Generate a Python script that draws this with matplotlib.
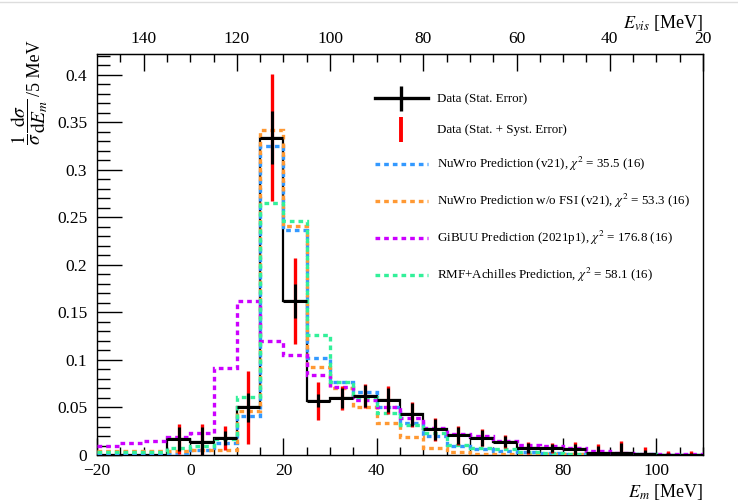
import numpy as np
import matplotlib
matplotlib.use("Agg")
import matplotlib.pyplot as plt
from matplotlib.lines import Line2D
from matplotlib.ticker import MultipleLocator, FixedLocator, FuncFormatter

plt.rcParams['font.family'] = ['Liberation Serif', 'DejaVu Serif']
plt.rcParams['mathtext.fontset'] = 'stix'

# ---------------- data ----------------
bin_edges = np.arange(-20, 111, 5)
data_vals = [0, 0, 0, 0.017, 0.014, 0.018, 0.050, 0.334, 0.162, 0.057, 0.060, 0.062,
             0.058, 0.043, 0.027, 0.021, 0.018, 0.014, 0.0075, 0.0075, 0.006, 0.002,
             0.002, 0.001, 0.0005, 0.0005]
# errors for bins starting at -5 MeV
err_first_bin = 3
stat_err = [0.013, 0.016, 0.007, 0.015, 0.028, 0.018, 0.007, 0.011, 0.012, 0.013, 0.012,
            0.011, 0.009, 0.008, 0.006, 0.005, 0.004, 0.006, 0.007, 0.011, 0.004, 0.002, 0.002]
tot_err = [0.016, 0.019, 0.013, 0.038, 0.067, 0.045, 0.020, 0.013, 0.013, 0.015, 0.013,
           0.012, 0.010, 0.009, 0.007, 0.006, 0.005, 0.008, 0.010, 0.013, 0.0075, 0.0035, 0.0035]

nuwro = [0.001, 0.001, 0.001, 0.001, 0.005, 0.0125, 0.041, 0.325, 0.237, 0.102, 0.077,
         0.066, 0.050, 0.034, 0.020, 0.009, 0.006, 0.0045, 0.003, 0.002, 0.0015, 0.001,
         0.001, 0.0008, 0.0005, 0.0005]
nuwro_nofsi = [0.004, 0.004, 0.004, 0.004, 0.005, 0.005, 0.046, 0.342, 0.241, 0.093, 0.070,
               0.051, 0.034, 0.019, 0.007, 0.0035, 0.0015, 0.001, 0.001, 0.0008, 0.0006,
               0.0005, 0.0004, 0.0003, 0.0003, 0.0003]
gibuu = [0.009, 0.013, 0.015, 0.019, 0.023, 0.092, 0.162, 0.120, 0.105, 0.084, 0.072,
         0.058, 0.050, 0.039, 0.028, 0.022, 0.020, 0.015, 0.0105, 0.009, 0.0075, 0.004,
         0.0025, 0.0015, 0.001, 0.001]
rmf = [0.003, 0.003, 0.0035, 0.007, 0.009, 0.017, 0.061, 0.265, 0.246, 0.126, 0.077,
       0.061, 0.044, 0.032, 0.023, 0.0105, 0.0074, 0.006, 0.0035, 0.002, 0.0015, 0.001,
       0.001, 0.0008, 0.0005, 0.0005]

pred_labels = [r'NuWro Prediction (v21), $\chi^2$ = 35.5 (16)',
               r'NuWro Prediction w/o FSI (v21), $\chi^2$ = 53.3 (16)',
               r'GiBUU Prediction (2021p1), $\chi^2$ = 176.8 (16)',
               r'RMF+Achilles Prediction, $\chi^2$ = 58.1 (16)']
pred_colors = ['#3399ff', '#ff9933', '#cc00ff', '#33f09a']
preds = [nuwro, nuwro_nofsi, gibuu, rmf]
evis_ticks = [140, 120, 100, 80, 60, 40, 20]

# ---------------- figure ----------------
W, H = 738, 504
fig = plt.figure(figsize=(7.38, 5.04), dpi=100)
ax = fig.add_axes([0.1314, 0.0972, 0.8212, 0.7957])

ax.stairs(data_vals, bin_edges, baseline=None, color='black', lw=1.6, zorder=2)

dash = (0, (1.4, 1.2))
for vals, col in zip(preds, pred_colors):
    ax.stairs(vals, bin_edges, baseline=None, color=col, lw=2.4, linestyle=dash, zorder=3)

centers = 0.5 * (bin_edges[:-1] + bin_edges[1:])
c = centers[err_first_bin:]
v = np.array(data_vals[err_first_bin:])
ax.errorbar(c, v, yerr=tot_err, fmt='none', ecolor='red', elinewidth=2.4, capsize=0, zorder=4)
ax.errorbar(c, v, yerr=stat_err, xerr=2.5, fmt='none', ecolor='black', elinewidth=2.2,
            capsize=0, zorder=5)

ax.set_xlim(-20, 110)
ax.set_ylim(0, 0.422)

ax.xaxis.set_major_locator(MultipleLocator(20))
ax.xaxis.set_minor_locator(MultipleLocator(5))
ax.yaxis.set_major_locator(MultipleLocator(0.05))
ax.yaxis.set_minor_locator(MultipleLocator(0.01))
ax.yaxis.set_major_formatter(FuncFormatter(lambda y, p: '%g' % round(y, 3)))
ax.tick_params(axis='x', which='both', direction='in', bottom=True, top=False, labelsize=12.5, pad=6)
ax.tick_params(axis='x', which='major', length=12, width=1)
ax.tick_params(axis='x', which='minor', length=6, width=1)
ax.tick_params(axis='y', which='both', direction='in', left=True, right=False, labelsize=12.5, pad=7)
ax.tick_params(axis='y', which='major', length=18, width=1)
ax.tick_params(axis='y', which='minor', length=9, width=1)
for s in ax.spines.values():
    s.set_linewidth(1.0)

ax.set_xlabel(r'$E_{m}$ [MeV]', loc='right', fontsize=13, labelpad=2)
# y title: fraction + "/5 MeV"
fig.text(30 / W, 1 - 98 / H, r'$\dfrac{1}{\sigma}\dfrac{\mathrm{d}\sigma}{\mathrm{d}E_{m}}$',
         fontsize=14, rotation=90, ha='center', va='top')
fig.text(35 / W, 1 - 40 / H, '/5 MeV', fontsize=13, rotation=90, ha='center', va='top')

sec = ax.secondary_xaxis('top', functions=(lambda x: 130 - x, lambda x: 130 - x))
sec.xaxis.set_major_locator(FixedLocator(evis_ticks))
sec.xaxis.set_minor_locator(FixedLocator(list(range(145, 19, -5))))
sec.tick_params(axis='x', which='both', direction='in', labelsize=12.5, pad=5)
sec.tick_params(axis='x', which='major', length=12, width=1)
sec.tick_params(axis='x', which='minor', length=6, width=1)
sec.set_xlabel(r'$E_{vis}$ [MeV]', loc='right', fontsize=13, labelpad=2)

handles = [Line2D([], [], color='black', lw=2.4, marker='|', markersize=18, mew=2.4),
           Line2D([], [], color='red', lw=0, marker='|', markersize=18, mew=2.8)]
for col in pred_colors:
    handles.append(Line2D([], [], color=col, lw=2.4, linestyle=dash))
labels = ['Data (Stat. Error)', 'Data (Stat. + Syst. Error)'] + pred_labels
ax.legend(handles, labels, loc='upper left', bbox_to_anchor=(0.44, 0.932), frameon=False,
          fontsize=9.4, handlelength=4.0, handletextpad=0.75, labelspacing=1.45)

fig.add_artist(Line2D([0, 1], [0.996, 0.996], transform=fig.transFigure, color='#dddddd', lw=1))

fig.savefig('out.png', dpi=100)
